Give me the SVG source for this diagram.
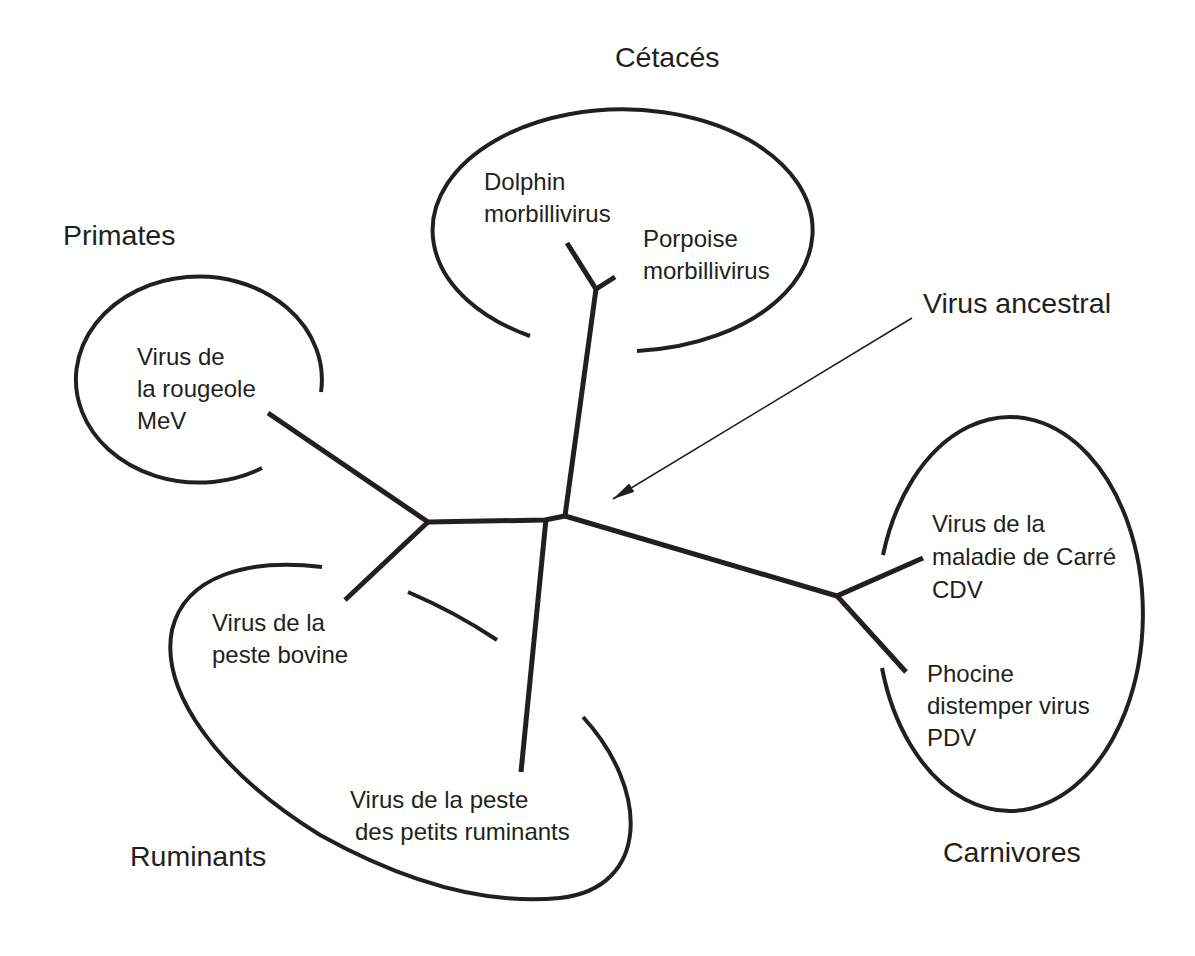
<svg xmlns="http://www.w3.org/2000/svg" width="1195" height="956" viewBox="0 0 1195 956">
<style>
  .bg { fill: #ffffff; }
  .lbl { font-family: "Liberation Sans", Arial, sans-serif; font-size: 24px; fill: #231f20; }
  .ttl { font-family: "Liberation Sans", Arial, sans-serif; font-size: 28.5px; fill: #231f20; }
  .ring { fill: none; stroke: #231f20; stroke-width: 4; stroke-linecap: butt; }
  .br { fill: none; stroke: #231f20; stroke-width: 5; stroke-linecap: butt; stroke-linejoin: miter; }
  .arr { fill: none; stroke: #231f20; stroke-width: 1.5; }
</style>
<defs>
  <marker id="ah" viewBox="0 0 22 10" refX="22" refY="5" markerWidth="22" markerHeight="10" markerUnits="userSpaceOnUse" orient="auto">
    <path d="M0,0 L22,5 L0,10 z" fill="#231f20"/>
  </marker>
</defs>
<rect class="bg" x="0" y="0" width="1195" height="956"/>

<g id="connectors">
  <!-- cetacean clade -->
  <polyline class="br" points="567,243 596,289 615,277"/>
  <line class="br" x1="596" y1="289" x2="565" y2="516"/>
  <!-- central to left node -->
  <polyline class="br" points="565,516 545,520 428,522"/>
  <!-- left node branches -->
  <line class="br" x1="428" y1="522" x2="268" y2="413"/>
  <line class="br" x1="428" y1="522" x2="345" y2="600"/>
  <!-- PPR branch -->
  <line class="br" x1="546" y1="519" x2="521" y2="772"/>
  <!-- carnivore stem and branches -->
  <line class="br" x1="565" y1="516" x2="837" y2="596"/>
  <polyline class="br" points="923,558 837,596 906,672"/>
  <!-- ancestral pointer -->
  <line class="arr" x1="912" y1="318" x2="613" y2="499" marker-end="url(#ah)"/>
</g>

<g id="cetaces">
  <path class="ring" d="M530,336 A190,121 0 1,1 637,351"/>
  <text class="ttl" x="615" y="67">Cétacés</text>
</g>
<g id="dolphin">
  <text class="lbl" x="484" y="190">Dolphin<tspan x="484" y="222">morbillivirus</tspan></text>
</g>
<g id="porpoise">
  <text class="lbl" x="643" y="247">Porpoise<tspan x="643" y="279">morbillivirus</tspan></text>
</g>

<g id="primates">
  <path class="ring" d="M321,392 A123,103 0 1,0 262,468"/>
  <text class="ttl" x="63" y="245">Primates</text>
</g>
<g id="mev">
  <text class="lbl" x="137" y="365">Virus de<tspan x="137" y="397">la rougeole</tspan><tspan x="137" y="429">MeV</tspan></text>
</g>

<g id="ruminants">
  <path class="ring" d="M322,567 C250,558 185,575 172,630 C160,690 215,770 320,835 C410,885 490,905 560,898 C650,888 650,790 583,717"/>
  <path class="ring" d="M408,592 Q455,612 497,640"/>
  <text class="ttl" x="130" y="866">Ruminants</text>
</g>
<g id="peste-bovine">
  <text class="lbl" x="212" y="631">Virus de la<tspan x="212" y="663">peste bovine</tspan></text>
</g>
<g id="ppr">
  <text class="lbl" x="350" y="808">Virus de la peste<tspan x="355" y="840">des petits ruminants</tspan></text>
</g>

<g id="carnivores">
  <path class="ring" d="M883,555 A133,197 0 1,1 882,668"/>
  <text class="ttl" x="943" y="862">Carnivores</text>
</g>
<g id="cdv">
  <text class="lbl" x="932" y="532">Virus de la<tspan x="932" y="565">maladie de Carré</tspan><tspan x="932" y="598">CDV</tspan></text>
</g>
<g id="pdv">
  <text class="lbl" x="927" y="682">Phocine<tspan x="927" y="714">distemper virus</tspan><tspan x="927" y="746">PDV</tspan></text>
</g>

<g id="ancestral">
  <text class="ttl" x="923" y="313">Virus ancestral</text>
</g>
</svg>
